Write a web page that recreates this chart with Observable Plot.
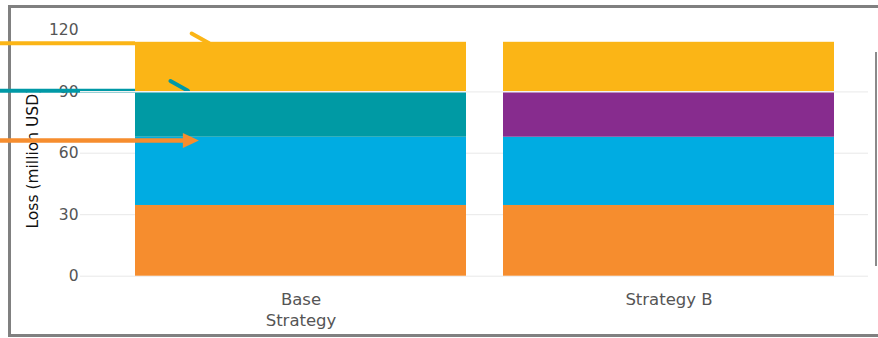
<!DOCTYPE html>
<html><head><meta charset="utf-8">
<script src="https://cdn.jsdelivr.net/npm/d3@7"></script>
<script src="https://cdn.jsdelivr.net/npm/@observablehq/plot@0.6"></script>
<style>
html,body{margin:0;padding:0;background:#fff;width:878px;height:338px;overflow:hidden;}
#wrap{position:relative;width:878px;height:338px;}
#frame{position:absolute;left:8px;top:5px;width:900px;height:332px;box-sizing:border-box;border:3px solid #808080;border-right:none;}
#legendEdge{position:absolute;left:875px;top:52px;width:2px;height:214px;background:#8a8a8a;}
#chart{position:absolute;left:0;top:0;}
</style></head><body>
<div id="wrap"><div id="frame"></div><div id="legendEdge"></div><div id="chart"></div></div>
<script>
const categories = ["Base Strategy", "Strategy B"];
const categoryLabels = ["Base\nStrategy", "Strategy B"];
const segments = ["Segment 1", "Segment 2", "Segment 3", "Segment 4"];
const baseValues = [34.5, 33.3, 22.2, 24.1];
const strategyBValues = [34.5, 33.3, 22.2, 24.1];
const baseColors = ["#F68D2E", "#00ACE2", "#009AA4", "#FBB516"];
const strategyBColors = ["#F68D2E", "#00ACE2", "#872C8E", "#FBB516"];
const yTicks = [0, 30, 60, 90, 120];
const gridTicks = [0, 30, 60, 90];
const yTitle = "Loss (million USD)";
const arrowValues = [113.4, 90.2, 65.9];
const arrowTips = [0.224, 0.16, 0.193];
const arrowColors = ["#FBB516", "#0099A6", "#F68D2E"];
const arrowHeads = ["open", "open", "filled"];

const rows = [];
[baseValues, strategyBValues].forEach((vals, ci) => {
  const cols = ci === 0 ? baseColors : strategyBColors;
  vals.forEach((v, j) => rows.push({strategy: categories[ci], segment: segments[j], layer: j, value: v, color: cols[j]}));
});

function arrowsMark(index, scales) {
  const g = d3.create("svg:g");
  const x0 = scales.x(categories[0]);
  const bw = scales.x.bandwidth ? scales.x.bandwidth() : 331;
  arrowValues.forEach((v, i) => {
    const y = scales.y(v);
    const tip = x0 + bw * arrowTips[i];
    const c = arrowColors[i];
    if (arrowHeads[i] === "filled") {
      const hl = 16, hw = 7.5;
      g.append("line").attr("x1", 0).attr("x2", tip - hl + 1).attr("y1", y).attr("y2", y)
        .attr("stroke", c).attr("stroke-width", 4.5);
      g.append("path").attr("d", `M${tip},${y}L${tip - hl},${y - hw}L${tip - hl},${y + hw}Z`).attr("fill", c);
    } else {
      const L = 20, a = 29 * Math.PI / 180;
      g.append("line").attr("x1", 0).attr("x2", x0).attr("y1", y).attr("y2", y)
        .attr("stroke", c).attr("stroke-width", 4);
      g.append("path").attr("d", `M${tip - L * Math.cos(a)},${y - L * Math.sin(a)}L${tip},${y}`)
        .attr("stroke", c).attr("stroke-width", 4).attr("fill", "none")
        .attr("stroke-linecap", "round");
    }
  });
  return g.node();
}

const chart = Plot.plot({
  width: 878,
  height: 338,
  marginLeft: 80,
  marginRight: 10,
  marginTop: 29.7,
  marginBottom: 62.3,
  style: {fontFamily: "DejaVu Sans", background: "transparent"},
  x: {domain: categories, range: [116.5, 852.5], paddingInner: 0.1, paddingOuter: 0.05, axis: null},
  y: {domain: [0, 120]},
  marks: [
    Plot.gridY(gridTicks, {stroke: "#e8e8e8", strokeOpacity: 1}),
    Plot.barY(rows, {x: "strategy", y: "value", z: "layer", order: "z", fill: "color"}),
    Plot.text(categories, {x: d => d, text: (d, i) => categoryLabels[i], frameAnchor: "bottom", lineAnchor: "top", dy: 14.5, fontSize: 16.5, lineHeight: 1.26, fill: "#555"}),
    Plot.axisY({ticks: yTicks, tickSize: 0, tickPadding: 2, fontSize: 15.5, color: "#555", label: null}),
    Plot.text([yTitle], {frameAnchor: "left", dx: -47.5, dy: 5, rotate: -90, textAnchor: "middle", lineAnchor: "middle", fontSize: 15.5, fill: "#111"}),
    arrowsMark,
    Plot.ruleY([90], {stroke: "#f2f2f2", strokeWidth: 1.5})
  ]
});
document.getElementById("chart").appendChild(chart);
</script>
</body></html>
